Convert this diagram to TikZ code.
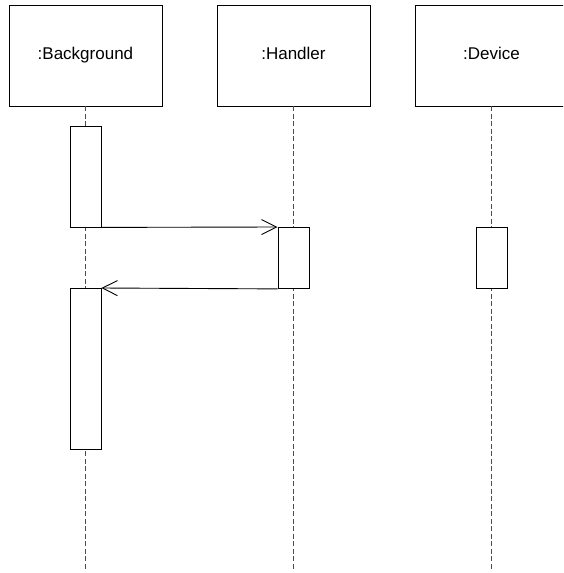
\documentclass[tikz,border=0pt]{standalone}
\usepackage{fontspec}
\setmainfont{Liberation Sans}
\usetikzlibrary{arrows.meta}
\begin{document}
\begin{tikzpicture}[x=1pt,y=-1pt,
  object/.style={draw, line width=0.9pt, minimum width=153pt, minimum height=101pt,
    inner sep=0pt, text height=12.2pt, text depth=3.6pt,
    font=\fontsize{17}{20}\selectfont, anchor=north west},
  activation/.style={draw, line width=0.9pt, fill=white, minimum width=31pt,
    inner sep=0pt, anchor=north west},
  lifeline/.style={draw=black!70, line width=0.9pt, dash pattern=on 5pt off 2.5pt},
  message/.style={draw, line width=0.9pt, -{Straight Barb[length=15pt,width=15pt,line width=0.9pt]}}]
\useasboundingbox (0,0) rectangle (563,573);
\clip (0,0) rectangle (563,573);
% participants
\node[object] (bg) at (8.5,4.5) {:Background};
\node[object] (hd) at (216.5,4.5) {:Handler};
\node[object] (dv) at (414.5,4.5) {:Device};
% lifeline ends
\coordinate (bgend) at (bg.south |- 0,571);
\coordinate (hdend) at (hd.south |- 0,571);
\coordinate (dvend) at (dv.south |- 0,571);
\path[lifeline] (bg.south) -- (bgend);
\path[lifeline] (hd.south) -- (hdend);
\path[lifeline] (dv.south) -- (dvend);
% activations
\node[activation, minimum height=101pt] (a1) at (69.5,125.5) {};
\node[activation, minimum height=161pt] (a2) at (69.5,288) {};
\node[activation, minimum height=61pt] (a3) at (277.5,227) {};
\node[activation, minimum height=61pt] (a4) at (475.5,227) {};
% messages
\path[message] (a1.south east) -- (a3.north west);
\path[message] (a3.south west) -- (a2.north east);
\end{tikzpicture}
\end{document}
